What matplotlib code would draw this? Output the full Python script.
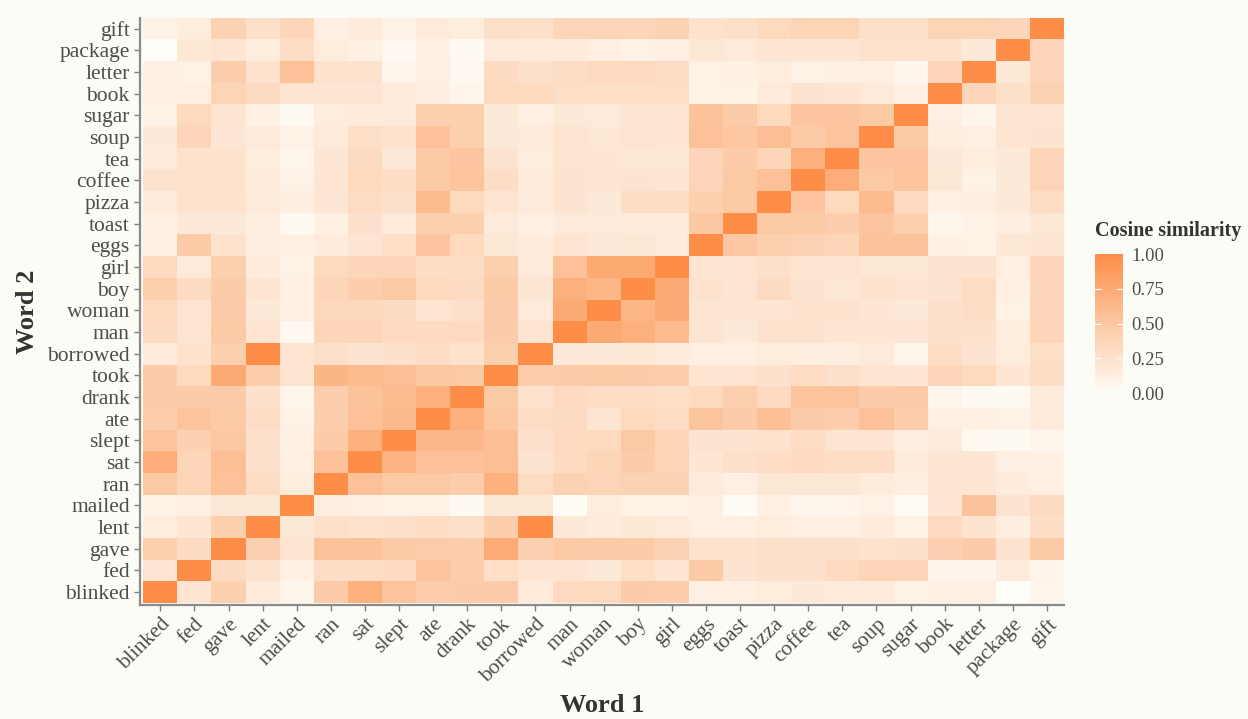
import numpy as np
import matplotlib
matplotlib.use("Agg")
import matplotlib.pyplot as plt
from matplotlib.colors import LinearSegmentedColormap

words = ["blinked", "fed", "gave", "lent", "mailed", "ran", "sat", "slept", "ate",
         "drank", "took", "borrowed", "man", "woman", "boy", "girl", "eggs", "toast",
         "pizza", "coffee", "tea", "soup", "sugar", "book", "letter", "package", "gift"]

# one row per Word 2 (same order as words), columns follow Word 1
blinked = [1.0, 0.22, 0.43, 0.17, 0.07, 0.46, 0.70, 0.53, 0.44, 0.46, 0.46, 0.16, 0.33, 0.34, 0.46, 0.44, 0.12, 0.12, 0.15, 0.18, 0.16, 0.16, 0.10, 0.12, 0.12, 0.0, 0.07]
fed = [0.22, 1.0, 0.32, 0.25, 0.12, 0.30, 0.30, 0.33, 0.53, 0.45, 0.28, 0.22, 0.22, 0.18, 0.28, 0.22, 0.48, 0.23, 0.26, 0.26, 0.33, 0.38, 0.38, 0.08, 0.08, 0.17, 0.08]
gave = [0.43, 0.32, 1.0, 0.42, 0.22, 0.54, 0.54, 0.48, 0.45, 0.45, 0.74, 0.42, 0.48, 0.46, 0.46, 0.40, 0.25, 0.25, 0.27, 0.27, 0.27, 0.25, 0.26, 0.42, 0.46, 0.23, 0.48]
lent = [0.15, 0.21, 0.43, 1.0, 0.20, 0.27, 0.25, 0.27, 0.30, 0.27, 0.44, 1.0, 0.18, 0.16, 0.20, 0.17, 0.12, 0.12, 0.15, 0.12, 0.12, 0.16, 0.09, 0.33, 0.23, 0.13, 0.30]
mailed = [0.09, 0.12, 0.20, 0.20, 1.0, 0.13, 0.12, 0.09, 0.10, 0.04, 0.20, 0.20, 0.03, 0.15, 0.10, 0.10, 0.12, 0.02, 0.11, 0.06, 0.06, 0.10, 0.02, 0.21, 0.54, 0.23, 0.32]
ran = [0.49, 0.37, 0.56, 0.31, 0.15, 1.0, 0.56, 0.49, 0.49, 0.45, 0.69, 0.31, 0.40, 0.38, 0.40, 0.40, 0.16, 0.12, 0.20, 0.20, 0.20, 0.16, 0.13, 0.21, 0.21, 0.16, 0.12]
sat = [0.72, 0.37, 0.58, 0.26, 0.12, 0.56, 1.0, 0.68, 0.56, 0.56, 0.58, 0.23, 0.33, 0.39, 0.46, 0.39, 0.21, 0.27, 0.30, 0.33, 0.30, 0.30, 0.16, 0.21, 0.21, 0.12, 0.12]
slept = [0.53, 0.42, 0.50, 0.26, 0.11, 0.46, 0.70, 1.0, 0.63, 0.63, 0.58, 0.26, 0.33, 0.34, 0.49, 0.39, 0.23, 0.23, 0.25, 0.31, 0.22, 0.22, 0.13, 0.16, 0.05, 0.04, 0.07]
ate = [0.44, 0.53, 0.48, 0.30, 0.10, 0.44, 0.56, 0.62, 1.0, 0.70, 0.51, 0.30, 0.32, 0.22, 0.34, 0.30, 0.53, 0.46, 0.57, 0.46, 0.44, 0.56, 0.44, 0.12, 0.11, 0.10, 0.16]
drank = [0.46, 0.46, 0.46, 0.26, 0.06, 0.44, 0.54, 0.60, 0.70, 1.0, 0.49, 0.25, 0.33, 0.30, 0.30, 0.28, 0.34, 0.43, 0.33, 0.53, 0.53, 0.46, 0.46, 0.07, 0.04, 0.04, 0.17]
took = [0.46, 0.34, 0.75, 0.45, 0.22, 0.66, 0.60, 0.58, 0.51, 0.49, 1.0, 0.45, 0.46, 0.47, 0.46, 0.44, 0.22, 0.22, 0.26, 0.31, 0.26, 0.22, 0.21, 0.37, 0.34, 0.21, 0.30]
borrowed = [0.17, 0.25, 0.43, 1.0, 0.22, 0.27, 0.23, 0.26, 0.30, 0.25, 0.43, 1.0, 0.18, 0.18, 0.20, 0.17, 0.12, 0.12, 0.15, 0.13, 0.13, 0.17, 0.07, 0.31, 0.23, 0.15, 0.28]
man = [0.32, 0.22, 0.48, 0.22, 0.05, 0.37, 0.37, 0.33, 0.33, 0.33, 0.46, 0.22, 1.0, 0.75, 0.70, 0.60, 0.22, 0.18, 0.25, 0.25, 0.21, 0.21, 0.21, 0.26, 0.26, 0.15, 0.37]
woman = [0.34, 0.22, 0.46, 0.18, 0.12, 0.35, 0.35, 0.32, 0.22, 0.26, 0.46, 0.17, 0.75, 1.0, 0.65, 0.75, 0.22, 0.21, 0.21, 0.25, 0.25, 0.21, 0.18, 0.26, 0.30, 0.10, 0.37]
boy = [0.43, 0.32, 0.46, 0.22, 0.12, 0.37, 0.44, 0.48, 0.34, 0.32, 0.48, 0.21, 0.70, 0.65, 1.0, 0.75, 0.25, 0.22, 0.32, 0.23, 0.20, 0.25, 0.22, 0.23, 0.31, 0.11, 0.37]
girl = [0.34, 0.17, 0.43, 0.16, 0.10, 0.34, 0.37, 0.37, 0.30, 0.30, 0.43, 0.17, 0.56, 0.76, 0.76, 1.0, 0.22, 0.22, 0.27, 0.22, 0.22, 0.20, 0.20, 0.23, 0.23, 0.12, 0.37]
eggs = [0.12, 0.48, 0.25, 0.13, 0.12, 0.16, 0.22, 0.28, 0.52, 0.34, 0.20, 0.16, 0.22, 0.18, 0.20, 0.17, 1.0, 0.50, 0.43, 0.40, 0.37, 0.55, 0.55, 0.11, 0.09, 0.20, 0.21]
toast = [0.12, 0.18, 0.18, 0.13, 0.04, 0.11, 0.26, 0.17, 0.43, 0.43, 0.17, 0.12, 0.17, 0.17, 0.16, 0.16, 0.50, 1.0, 0.49, 0.49, 0.44, 0.52, 0.43, 0.07, 0.09, 0.13, 0.20]
pizza = [0.16, 0.25, 0.25, 0.17, 0.13, 0.21, 0.31, 0.27, 0.60, 0.34, 0.22, 0.17, 0.23, 0.18, 0.30, 0.30, 0.43, 0.49, 1.0, 0.52, 0.34, 0.60, 0.33, 0.12, 0.13, 0.18, 0.31]
coffee = [0.25, 0.25, 0.25, 0.16, 0.10, 0.21, 0.34, 0.30, 0.48, 0.53, 0.30, 0.16, 0.23, 0.22, 0.23, 0.21, 0.38, 0.49, 0.56, 1.0, 0.72, 0.49, 0.53, 0.20, 0.10, 0.18, 0.38]
tea = [0.17, 0.25, 0.25, 0.15, 0.07, 0.21, 0.32, 0.18, 0.48, 0.52, 0.23, 0.15, 0.22, 0.21, 0.20, 0.20, 0.38, 0.46, 0.37, 0.70, 1.0, 0.52, 0.52, 0.18, 0.15, 0.18, 0.38]
soup = [0.18, 0.37, 0.21, 0.17, 0.10, 0.17, 0.28, 0.25, 0.56, 0.43, 0.18, 0.16, 0.22, 0.20, 0.22, 0.21, 0.56, 0.51, 0.58, 0.48, 0.53, 1.0, 0.49, 0.15, 0.12, 0.22, 0.23]
sugar = [0.10, 0.34, 0.22, 0.11, 0.04, 0.15, 0.16, 0.16, 0.43, 0.43, 0.18, 0.12, 0.18, 0.17, 0.21, 0.21, 0.54, 0.46, 0.34, 0.52, 0.52, 0.49, 1.0, 0.12, 0.07, 0.22, 0.22]
book = [0.12, 0.12, 0.39, 0.32, 0.22, 0.22, 0.22, 0.17, 0.13, 0.07, 0.34, 0.34, 0.28, 0.28, 0.28, 0.28, 0.10, 0.10, 0.17, 0.23, 0.21, 0.17, 0.12, 1.0, 0.37, 0.27, 0.40]
letter = [0.12, 0.10, 0.44, 0.25, 0.56, 0.25, 0.25, 0.07, 0.12, 0.05, 0.32, 0.27, 0.30, 0.33, 0.33, 0.30, 0.10, 0.11, 0.15, 0.10, 0.12, 0.12, 0.07, 0.37, 1.0, 0.20, 0.37]
package = [0.0, 0.20, 0.22, 0.15, 0.30, 0.15, 0.11, 0.05, 0.11, 0.04, 0.17, 0.16, 0.16, 0.12, 0.10, 0.12, 0.20, 0.17, 0.21, 0.21, 0.21, 0.25, 0.25, 0.25, 0.18, 1.0, 0.37]
gift = [0.10, 0.15, 0.40, 0.27, 0.37, 0.12, 0.16, 0.10, 0.17, 0.15, 0.27, 0.27, 0.37, 0.37, 0.37, 0.40, 0.25, 0.27, 0.34, 0.39, 0.39, 0.27, 0.27, 0.39, 0.39, 0.37, 1.0]

sim = np.array([blinked, fed, gave, lent, mailed, ran, sat, slept, ate, drank, took,
                borrowed, man, woman, boy, girl, eggs, toast, pizza, coffee, tea, soup,
                sugar, book, letter, package, gift])

bg = "#FBFCF6"
cmap = LinearSegmentedColormap.from_list(
    "cos", [(0.0, "#FEFEF9"), (0.1, "#FEF1E5"), (0.25, "#FDE2CD"),
            (0.5, "#FCC8A3"), (0.75, "#FCAA74"), (1.0, "#FE8D48")])

plt.rcParams["font.family"] = ["Liberation Serif", "DejaVu Serif"]

fig = plt.figure(figsize=(12.48, 7.19), dpi=100, facecolor=bg)
ax = fig.add_axes([0.1118, 0.1586, 0.8526 - 0.1118, 0.9754 - 0.1586])
ax.set_facecolor(bg)

n = len(words)
mesh = ax.pcolormesh(np.arange(n + 1), np.arange(n + 1), sim, cmap=cmap,
                     vmin=0, vmax=1, shading="flat")
ax.set_xlim(-0.11, n)
ax.set_ylim(-0.09, n)

ax.set_xticks(np.arange(n) + 0.5)
ax.set_yticks(np.arange(n) + 0.5)
ax.set_xticklabels(words, rotation=45, ha="right", va="top", rotation_mode="anchor")
ax.set_yticklabels(words)
ax.tick_params(axis="both", colors="#7f7f7f", labelcolor="#4d4d4d", labelsize=15.5,
               length=4, width=1, pad=3)
for s in ["top", "right"]:
    ax.spines[s].set_visible(False)
for s in ["left", "bottom"]:
    ax.spines[s].set_color("#8a8a8a")
    ax.spines[s].set_linewidth(1.6)

ax.set_xlabel("Word 1", fontsize=19, fontweight="bold", color="#333333")
ax.set_ylabel("Word 2", fontsize=19, fontweight="bold", color="#333333")
ax.xaxis.set_label_coords(0.5, -0.172)
ax.xaxis.label.set_va("center")
ax.yaxis.set_label_coords(-0.1207, 0.5)
ax.yaxis.label.set_va("center")

cax = fig.add_axes([0.8774, 0.4534, 0.0224, 0.1933])
cb = fig.colorbar(mesh, cax=cax, ticks=[0, 0.25, 0.5, 0.75, 1.0])
cb.outline.set_visible(False)
cb.ax.set_yticklabels(["0.00", "0.25", "0.50", "0.75", "1.00"])
cb.ax.tick_params(length=0, labelsize=13.5, labelcolor="#4d4d4d", pad=6)
for t in [0.25, 0.5, 0.75]:
    cb.ax.plot([0, 0.2], [t, t], color="white", lw=0.8, transform=cb.ax.get_yaxis_transform())
    cb.ax.plot([0.8, 1.0], [t, t], color="white", lw=0.8, transform=cb.ax.get_yaxis_transform())
fig.text(0.8774, 0.665, "Cosine similarity", fontsize=14.5, fontweight="bold",
         color="#333333", ha="left", va="bottom")

fig.savefig("out.png", dpi=100, facecolor=bg)
